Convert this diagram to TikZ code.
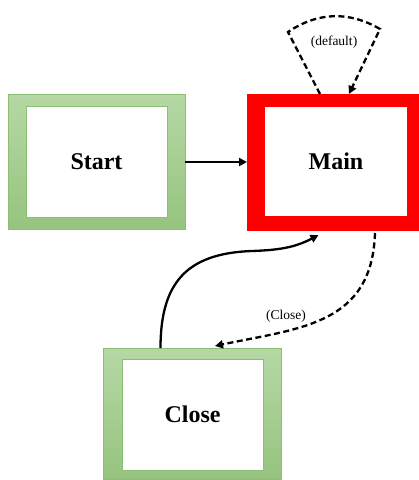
\documentclass[tikz,border=0pt]{standalone}
\usepackage{fontspec}
\setmainfont{Liberation Serif}
\usetikzlibrary{arrows.meta,calc}

\definecolor{grnTop}{HTML}{B5D8A4}
\definecolor{grnBot}{HTML}{96C47F}
\definecolor{grnLine}{HTML}{8CBF72}
\definecolor{mainRed}{HTML}{FF0000}

\tikzset{
  greenframe/.style={rectangle, inner sep=0pt, outer sep=0pt,
    top color=grnTop, bottom color=grnBot, draw=grnLine, line width=0.6pt},
  redframe/.style={rectangle, inner sep=0pt, outer sep=0pt,
    fill=mainRed, draw=mainRed, line width=0.6pt},
  greeninner/.style={rectangle, inner sep=0pt, outer sep=0pt,
    fill=white, draw=grnLine, line width=0.5pt, font=\fontsize{24}{28}\selectfont\bfseries},
  redinner/.style={rectangle, inner sep=0pt, outer sep=0pt,
    fill=white, draw=none, font=\fontsize{24}{28}\selectfont\bfseries},
  solidlink/.style={line width=2.3pt, -{Triangle[length=8pt,width=8pt]}},
  dashlink/.style={line width=2.3pt, dash pattern=on 6pt off 3.5pt,
    -{Triangle[length=8pt,width=8pt]}},
  tag/.style={font=\fontsize{13.5}{16}\selectfont, inner sep=1pt}
}

\begin{document}
\begin{tikzpicture}[x=1pt, y=-1pt]
  \useasboundingbox (0,0) rectangle (419,480);

  % outer frames
  \node[greenframe, minimum width=177pt, minimum height=135pt] (start) at (96.5,162) {};
  \node[redframe,   minimum width=171pt, minimum height=136pt] (main)  at (332.5,162) {};
  \node[greenframe, minimum width=178pt, minimum height=131pt] (close) at (192,413.5) {};

  % inner panels with the state names
  \node[greeninner, minimum width=141pt, minimum height=111pt] (startin) at (96.5,162) {Start};
  \node[redinner,   minimum width=142pt, minimum height=109pt] (mainin)  at (336,161.5) {Main};
  \node[greeninner, minimum width=141pt, minimum height=111pt] (closein) at (192.5,414.5) {Close};

  % Start -> Main
  \draw[solidlink] (start.east) -- (main.west);

  % self loop on Main
  \coordinate (loopL) at (288,32);
  \coordinate (loopR) at (380,29);
  \draw[dashlink] ([xshift=-12.5pt]main.north) -- (loopL)
      to[bend left=32] (loopR) -- ([xshift=16.5pt]main.north);
  \node[tag] (deflabel) at (334,42) {(default)};

  % Close -> Main
  \coordinate (bendC) at (252,251);
  \draw[solidlink] ([xshift=-31.5pt]close.north)
      to[out=90, in=182, looseness=1.25] (bendC)
      to[out=2, in=208] ([xshift=-14pt,yshift=-5pt]main.south);

  % Main -> Close
  \draw[dashlink] ([xshift=42.5pt,yshift=-3pt]main.south)
      .. controls (372,325) and (300,328) .. ([xshift=23pt,yshift=2pt]close.north);
  \node[tag] (closelabel) at (286,316) {(Close)};
\end{tikzpicture}
\end{document}
